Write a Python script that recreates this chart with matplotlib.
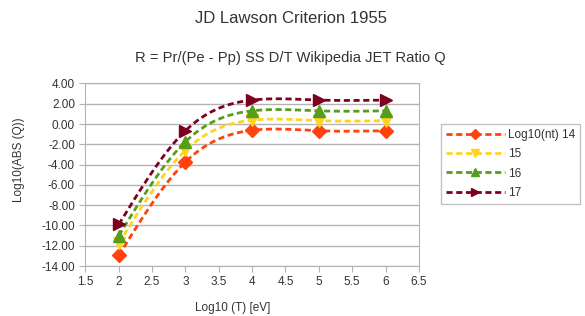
import numpy as np
import matplotlib.pyplot as plt

plt.rcParams['font.family'] = ['Liberation Sans', 'DejaVu Sans']

# dados
log_t = [2, 3, 4, 5, 6]
q_14 = [-12.95, -3.74, -0.62, -0.66, -0.66]
q_15 = [-11.75, -2.60, 0.38, 0.33, 0.33]
q_16 = [-11.0, -1.74, 1.30, 1.30, 1.30]
q_17 = [-9.9, -0.66, 2.36, 2.36, 2.36]
rotulos = ['Log10(nt) 14', '15', '16', '17']
cores = ['#ff420e', '#ffd320', '#579d1c', '#7e0021']
marcadores = ['D', 'v', '^', '>']


def spline_natural(x, y, n=200):
    # spline cubica natural so para desenhar a curva suave
    x = np.asarray(x, float)
    y = np.asarray(y, float)
    k = len(x)
    h = np.diff(x)
    A = np.zeros((k, k))
    b = np.zeros(k)
    A[0, 0] = A[-1, -1] = 1
    for i in range(1, k - 1):
        A[i, i - 1] = h[i - 1]
        A[i, i] = 2 * (h[i - 1] + h[i])
        A[i, i + 1] = h[i]
        b[i] = 6 * ((y[i + 1] - y[i]) / h[i] - (y[i] - y[i - 1]) / h[i - 1])
    M = np.linalg.solve(A, b)
    xs = np.linspace(x[0], x[-1], n)
    ys = np.empty_like(xs)
    for j, xv in enumerate(xs):
        i = min(np.searchsorted(x, xv, side='right') - 1, k - 2)
        t1 = x[i + 1] - xv
        t0 = xv - x[i]
        ys[j] = (M[i] * t1 ** 3 / (6 * h[i]) + M[i + 1] * t0 ** 3 / (6 * h[i])
                 + (y[i] / h[i] - M[i] * h[i] / 6) * t1
                 + (y[i + 1] / h[i] - M[i + 1] * h[i] / 6) * t0)
    return xs, ys


fig = plt.figure(figsize=(5.85, 3.16), dpi=100)
ax = fig.add_axes([0.146, 0.158, 0.570, 0.578])

for serie, rot, cor, mk in zip([q_14, q_15, q_16, q_17], rotulos, cores, marcadores):
    xs, ys = spline_natural(log_t, serie)
    ax.plot(xs, ys, color=cor, lw=2, ls=(0, (2.2, 1.3)))
    ax.plot(log_t, serie, ls='none', marker=mk, color=cor, ms=7 if mk == 'D' else 8)
    ax.plot([], [], color=cor, lw=2, ls=(0, (2.2, 1.3)), marker=mk, ms=5.5, label=rot)

ax.set_xlim(1.5, 6.5)
ax.set_ylim(-14, 4)
ax.set_xticks(np.arange(1.5, 6.51, 0.5))
ax.set_xticklabels(['1.5', '2', '2.5', '3', '3.5', '4', '4.5', '5', '5.5', '6', '6.5'])
ax.set_yticks(np.arange(-14, 4.1, 2))
ax.set_yticklabels([f'{v:.2f}' for v in np.arange(-14, 4.1, 2)])
ax.grid(axis='y', color='#b3b3b3', lw=1)
ax.set_axisbelow(True)
for s in ax.spines.values():
    s.set_color('#b3b3b3')
ax.tick_params(colors='#b3b3b3', labelcolor='#333333', labelsize=8.5, length=4)

ax.set_xlabel('Log10 (T) [eV]', fontsize=8.5, color='#333333')
ax.set_ylabel('Log10(ABS (Q))', fontsize=8.5, color='#333333')
ax.xaxis.set_label_coords(0.443, -0.195)
ax.yaxis.set_label_coords(-0.182, 0.58)

fig.text(0.497, 0.94, 'JD Lawson Criterion 1955', ha='center', va='center', fontsize=12, color='#333333')
fig.text(0.496, 0.818, 'R = Pr/(Pe - Pp) SS D/T Wikipedia JET Ratio Q', ha='center', va='center',
         fontsize=10.6, color='#333333')

leg = fig.legend(loc='upper left', bbox_to_anchor=(0.754, 0.607), borderaxespad=0, fontsize=8.5,
                 frameon=True, fancybox=False, edgecolor='#b3b3b3', handlelength=5.0, borderpad=0.4,
                 labelspacing=0.62, handletextpad=0.3)
leg.get_frame().set_linewidth(1)
for t in leg.get_texts():
    t.set_color('#333333')

fig.savefig('out.png', dpi=100)
